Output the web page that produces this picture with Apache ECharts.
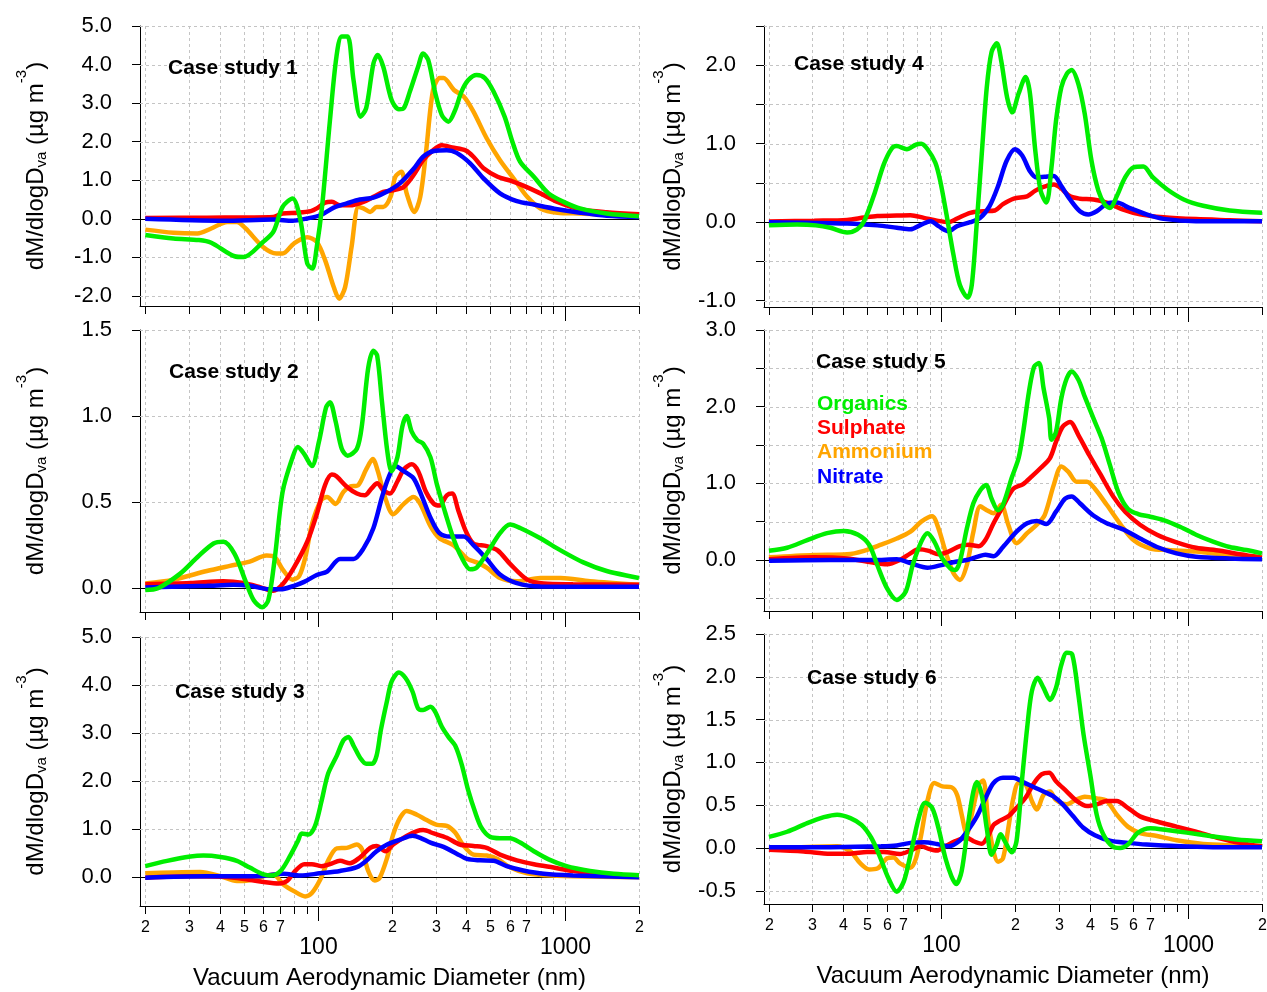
<!DOCTYPE html>
<html>
<head>
<meta charset="utf-8">
<script src="https://cdn.jsdelivr.net/npm/echarts@6/dist/echarts.min.js"></script>
<style>html,body{margin:0;padding:0;background:#fff}#c{width:1267px;height:992px}</style>
</head>
<body>
<div id="c"></div>
<script>
// ---------------- DATA ----------------
const seriesNames = ['Organics', 'Sulphate', 'Ammonium', 'Nitrate'];
const caseNames = ['Case study 1', 'Case study 2', 'Case study 3', 'Case study 4', 'Case study 5', 'Case study 6'];
const xTickValues = [20, 30, 40, 50, 60, 70, 80, 90, 100, 200, 300, 400, 500, 600, 700, 800, 900, 1000, 2000];
const xTickLabels = ['2', '3', '4', '5', '6', '7', '', '', '100', '2', '3', '4', '5', '6', '7', '', '', '1000', '2'];
const xMajorTicks = [100, 1000];
const xTitle = 'Vacuum Aerodynamic Diameter (nm)';

const cs1_yTicks = [-2, -1, 0, 1, 2, 3, 4, 5];
const cs1_yLabels = [-2, -1, 0, 1, 2, 3, 4, 5];
const cs2_yTicks = [0, 0.5, 1, 1.5];
const cs2_yLabels = [0, 0.5, 1, 1.5];
const cs3_yTicks = [0, 1, 2, 3, 4, 5];
const cs3_yLabels = [0, 1, 2, 3, 4, 5];
const cs4_yTicks = [-1, -0.5, 0, 0.5, 1, 1.5, 2, 2.5];
const cs4_yLabels = [-1, 0, 1, 2];
const cs5_yTicks = [-0.5, 0, 0.5, 1, 1.5, 2, 2.5, 3];
const cs5_yLabels = [0, 1, 2, 3];
const cs6_yTicks = [-0.5, 0, 0.5, 1, 1.5, 2, 2.5];
const cs6_yLabels = [-0.5, 0, 0.5, 1, 1.5, 2, 2.5];

// Case study 1
const cs1_org = [[20,-0.42],[26,-0.51],[33,-0.55],[37,-0.62],[46,-0.97],[50,-0.99],[60,-0.60],[66,-0.34],[72,0.31],[79,0.53],[85,-0.03],[90.6,-1.16],[95,-1.29],[99,-0.73],[104,0.31],[112,2.56],[119,4.21],[125,4.73],[132,4.73],[139.5,3.60],[149,2.65],[157,2.87],[168,4.03],[175,4.25],[184,3.95],[199,3.08],[213,2.84],[223,2.87],[236,3.30],[255,3.95],[267,4.29],[280,4.12],[299,3.26],[318,2.69],[338,2.52],[360,2.82],[382,3.30],[407,3.60],[440,3.73],[475,3.65],[515,3.30],[571,2.65],[614,2.0],[660,1.48],[750,1.09],[860,0.66],[990,0.44],[1154,0.27],[1479,0.14],[2000,0.07]];
const cs1_sul = [[20,0.02],[35.5,0.03],[66,0.05],[72,0.14],[83,0.16],[93.7,0.2],[99,0.27],[107,0.42],[114,0.44],[123,0.35],[135,0.35],[153,0.44],[168,0.57],[184,0.70],[202,0.74],[223,0.83],[244,1.13],[267,1.52],[293,1.78],[318,1.91],[350,1.85],[398,1.77],[427,1.61],[469,1.31],[535,1.09],[602,0.99],[680,0.86],[797,0.66],[934,0.44],[1154,0.25],[1479,0.17],[2000,0.12]];
const cs1_amm = [[20,-0.28],[26,-0.36],[32.5,-0.38],[37,-0.25],[43,-0.08],[47,-0.08],[51,-0.25],[60,-0.73],[68,-0.90],[72,-0.90],[80,-0.64],[90.6,-0.48],[99,-0.60],[107,-1.07],[116,-1.77],[122,-2.07],[129,-1.77],[137,-0.73],[146,0.31],[153,0.27],[163,0.18],[173,0.31],[184,0.31],[197,0.57],[206,1.09],[218,1.22],[229,0.66],[246,0.18],[260,0.57],[274,1.70],[293,3.34],[312,3.65],[323,3.65],[356,3.34],[390,3.17],[427,2.78],[483,2.09],[547,1.52],[629,1.0],[705,0.57],[797,0.27],[934,0.16],[1154,0.14],[1479,0.11],[2000,0.10]];
const cs1_nit = [[20,0.0],[41.5,-0.05],[66,-0.02],[79,-0.05],[90.6,0.01],[103,0.1],[116,0.29],[131,0.40],[148,0.50],[168,0.55],[190,0.70],[215,0.92],[244,1.29],[267,1.61],[295,1.76],[333,1.78],[365,1.71],[414,1.44],[469,1.05],[547,0.66],[640,0.46],[750,0.37],[934,0.25],[1154,0.16],[1479,0.08],[2000,0.05]];

// Case study 2
const cs2_org = [[20,-0.01],[22.5,0.0],[27.7,0.085],[32.5,0.18],[37.8,0.26],[41.5,0.27],[46,0.20],[51,0.04],[55,-0.07],[59.5,-0.11],[63,-0.07],[67,0.18],[72,0.56],[79,0.76],[83,0.82],[88,0.78],[94.6,0.71],[101,0.85],[108,1.05],[112,1.08],[118,0.97],[125,0.81],[132,0.77],[144,0.81],[151,0.95],[160,1.28],[168,1.38],[174,1.35],[182,1.08],[191,0.80],[199,0.68],[210,0.76],[220,0.94],[229,1.0],[240,0.91],[253,0.86],[267,0.84],[286,0.76],[304,0.60],[328,0.44],[354,0.29],[382,0.18],[414,0.11],[440,0.12],[483,0.20],[547,0.32],[600,0.37],[660,0.35],[797,0.29],[963,0.22],[1190,0.15],[1479,0.10],[2000,0.06]];
const cs2_sul = [[20,0.023],[30.5,0.03],[41.5,0.04],[50,0.03],[59,0.004],[66,-0.015],[72,0.023],[80,0.12],[90.6,0.27],[99,0.43],[107,0.60],[114,0.66],[119,0.65],[131,0.59],[144,0.55],[155,0.54],[165,0.58],[174,0.61],[184,0.57],[196,0.55],[210,0.62],[223,0.69],[240,0.72],[255,0.68],[274,0.56],[295,0.49],[311,0.48],[333,0.54],[350,0.55],[371,0.45],[398,0.33],[427,0.26],[483,0.245],[535,0.22],[602,0.14],[705,0.05],[823,0.027],[1080,0.023],[2000,0.02]];
const cs2_amm = [[20,0.027],[26,0.05],[35.5,0.10],[44,0.13],[53,0.155],[62,0.19],[67,0.18],[72,0.11],[79,0.05],[84,0.07],[89,0.18],[94.6,0.37],[103,0.51],[109,0.53],[118,0.49],[127,0.56],[135,0.59],[146,0.60],[157,0.69],[167,0.75],[175,0.68],[187,0.53],[202,0.43],[223,0.49],[244,0.53],[260,0.49],[286,0.36],[311,0.29],[354,0.25],[404,0.17],[440,0.15],[483,0.12],[547,0.06],[640,0.04],[797,0.06],[963,0.06],[1266,0.04],[2000,0.02]];
const cs2_nit = [[20,0.004],[35.5,0.014],[45.6,0.02],[53,0.014],[64,-0.006],[70.7,-0.006],[80,0.014],[88,0.037],[99,0.077],[109,0.097],[123,0.17],[139.5,0.17],[153,0.23],[168,0.35],[182,0.53],[193,0.64],[206,0.71],[223,0.68],[244,0.64],[263,0.54],[286,0.41],[311,0.32],[343,0.30],[390,0.30],[427,0.25],[483,0.17],[547,0.08],[640,0.03],[797,0.01],[2000,0.008]];

// Case study 3
const cs3_org = [[20,0.23],[24.5,0.34],[30.5,0.43],[34.4,0.45],[40.3,0.42],[47,0.34],[53,0.20],[60.3,0.056],[65,0.035],[70.7,0.13],[76.6,0.41],[83,0.75],[86.1,0.91],[91.8,0.89],[97.5,1.07],[103.6,1.59],[110,2.15],[119.4,2.53],[127,2.85],[133,2.92],[139.5,2.74],[149,2.47],[157,2.36],[166,2.36],[173,2.53],[180,3.06],[191,3.69],[199,4.07],[213,4.26],[227,4.14],[242,3.86],[255,3.51],[267,3.48],[286,3.55],[299,3.44],[318,3.13],[338,2.92],[360,2.74],[382,2.36],[407,1.80],[434,1.35],[460,1.03],[498,0.84],[547,0.81],[600,0.81],[660,0.72],[750,0.54],[861,0.37],[1017,0.23],[1266,0.13],[1580,0.07],[2000,0.04]];
const cs3_sul = [[20,-0.01],[30.5,0.02],[41.5,0.007],[52,-0.05],[60.3,-0.10],[69.5,-0.13],[75,-0.08],[81,0.13],[88,0.27],[94.6,0.27],[103.6,0.23],[112,0.27],[123,0.34],[135,0.29],[148,0.41],[163,0.61],[173,0.65],[188,0.54],[202,0.68],[229,0.86],[252,0.96],[267,0.98],[295,0.91],[333,0.82],[376,0.68],[427,0.65],[483,0.61],[547,0.47],[640,0.35],[750,0.27],[900,0.20],[1080,0.13],[1479,0.04],[2000,0.007]];
const cs3_amm = [[20,0.08],[26,0.10],[33.4,0.11],[40.3,0.02],[47,-0.08],[52,-0.07],[60.3,0.02],[66,0.056],[72.5,-0.15],[80,-0.29],[88.9,-0.40],[94.6,-0.33],[102.3,-0.05],[110,0.34],[119.4,0.60],[131,0.61],[143.8,0.68],[151,0.58],[160,0.13],[170,-0.07],[178,-0.014],[191,0.41],[202,0.89],[215.5,1.24],[229,1.38],[252,1.30],[276,1.19],[304,1.09],[333,1.07],[360,0.93],[390,0.65],[427,0.47],[483,0.45],[535,0.38],[602,0.20],[705,0.08],[835,0.04],[1080,0.02],[2000,0.0]];
const cs3_nit = [[20,-0.01],[35.5,0.02],[57,0.02],[72.5,0.07],[85,0.035],[102,0.08],[123,0.13],[144,0.21],[157,0.34],[173,0.54],[191,0.68],[215,0.78],[242,0.86],[260,0.82],[286,0.72],[323,0.63],[365,0.49],[402,0.38],[454,0.35],[515,0.34],[582,0.23],[680,0.14],[823,0.07],[1080,0.035],[2000,0.0]];

// Case study 4 (no ammonium trace)
const cs4_org = [[20,-0.04],[26,-0.03],[31,-0.04],[35.5,-0.07],[41.5,-0.13],[45.6,-0.09],[48.6,0.01],[53.4,0.35],[58.5,0.74],[63,0.94],[66,0.97],[72.5,0.93],[79,0.99],[83,1.0],[88,0.93],[94.6,0.76],[99,0.53],[105,0.10],[112,-0.41],[119,-0.80],[128,-0.96],[133,-0.80],[139.5,0.01],[146,0.87],[153,1.72],[160,2.17],[168,2.28],[175,2.06],[185,1.59],[194,1.40],[206,1.64],[220,1.85],[229,1.64],[240,0.95],[253,0.40],[267,0.25],[280,0.70],[292,1.29],[307,1.72],[323,1.89],[338,1.94],[360,1.76],[382,1.38],[407,0.78],[434,0.40],[460,0.23],[483,0.18],[515,0.33],[557,0.57],[602,0.70],[660,0.71],[722,0.57],[823,0.42],[963,0.29],[1154,0.21],[1479,0.15],[2000,0.12]];
const cs4_sul = [[20,0.01],[30.5,0.02],[41.5,0.03],[48.6,0.06],[55,0.08],[66,0.085],[75,0.09],[85,0.056],[96,0.02],[107,0.0],[116,0.047],[131,0.12],[148,0.14],[165,0.15],[178,0.23],[197,0.30],[223,0.33],[240,0.40],[260,0.45],[286,0.48],[304,0.44],[333,0.33],[365,0.30],[414,0.29],[469,0.25],[547,0.16],[640,0.10],[797,0.064],[1080,0.04],[1479,0.026],[2000,0.013]];
const cs4_amm = [];
const cs4_nit = [[20,0.0],[41.5,-0.017],[55,-0.04],[66,-0.07],[75,-0.09],[83,-0.03],[90.6,0.013],[97.5,-0.05],[107,-0.115],[116,-0.05],[131,0.0],[144,0.056],[157,0.205],[170,0.46],[184,0.78],[199,0.93],[213,0.85],[229,0.65],[244,0.57],[263,0.58],[286,0.59],[307,0.46],[333,0.29],[365,0.14],[395,0.10],[427,0.14],[469,0.235],[515,0.25],[582,0.18],[680,0.10],[797,0.043],[1080,0.013],[2000,0.013]];

// Case study 5
const cs5_org = [[20,0.12],[23.7,0.16],[28.6,0.26],[34.4,0.35],[40.3,0.38],[46,0.33],[51,0.20],[55,-0.065],[60.3,-0.37],[66,-0.52],[71.8,-0.41],[76.6,-0.065],[83,0.24],[88,0.35],[93.7,0.24],[101,0.02],[109,-0.11],[114,-0.13],[119,-0.02],[127,0.41],[135,0.74],[144,0.91],[152,0.98],[160,0.80],[170,0.65],[178,0.72],[193,1.07],[206,1.33],[215,1.67],[227,2.20],[238,2.52],[249,2.57],[260,2.24],[274,1.85],[280,1.57],[292,1.67],[307,2.11],[323,2.37],[338,2.46],[360,2.35],[382,2.13],[414,1.85],[447,1.59],[483,1.24],[522,0.89],[571,0.67],[629,0.60],[705,0.565],[797,0.52],[934,0.43],[1080,0.33],[1266,0.24],[1479,0.17],[1729,0.13],[2000,0.087]];
const cs5_sul = [[20,0.01],[30.5,0.035],[41.5,0.02],[52,-0.03],[60.3,-0.056],[68,0.0],[75,0.087],[81,0.14],[89,0.12],[97.5,0.074],[107,0.11],[119,0.18],[129,0.20],[142,0.18],[151,0.26],[163,0.48],[178,0.70],[196,0.93],[215,0.99],[233,1.09],[253,1.20],[276,1.33],[292,1.54],[311,1.74],[333,1.80],[360,1.63],[398,1.37],[440,1.13],[498,0.83],[557,0.63],[640,0.46],[750,0.33],[900,0.23],[1080,0.16],[1355,0.12],[1625,0.074],[2000,0.03]];
const cs5_amm = [[20,0.035],[30.5,0.065],[41.5,0.074],[48.6,0.12],[57,0.20],[66,0.28],[75,0.37],[83,0.50],[91.8,0.57],[97.5,0.41],[104,0.11],[112,-0.17],[119,-0.26],[127,-0.065],[135,0.37],[144,0.70],[153,0.65],[163,0.61],[175,0.72],[187,0.46],[202,0.22],[223,0.35],[244,0.46],[263,0.59],[286,0.98],[307,1.22],[328,1.15],[354,1.02],[390,1.02],[420,0.93],[469,0.72],[535,0.46],[602,0.26],[705,0.15],[835,0.13],[1080,0.11],[1479,0.065],[2000,0.035]];
const cs5_nit = [[20,-0.01],[35.5,0.0],[53.3,0.0],[66,0.01],[75,-0.04],[88,-0.1],[99,-0.07],[112,-0.03],[127,0.0],[139.5,0.04],[151,0.07],[163,0.05],[178,0.17],[202,0.37],[223,0.48],[244,0.51],[267,0.47],[292,0.63],[318,0.80],[338,0.83],[365,0.74],[414,0.58],[469,0.48],[547,0.40],[640,0.28],[750,0.17],[900,0.087],[1080,0.043],[1479,0.02],[2000,0.01]];

// Case study 6
const cs6_org = [[20,0.13],[23.7,0.19],[28.6,0.29],[33.4,0.36],[37.8,0.39],[42.8,0.35],[47.5,0.27],[52,0.12],[56,-0.08],[61,-0.35],[66,-0.51],[70.5,-0.39],[75,-0.08],[81,0.35],[86,0.53],[91.8,0.47],[97.5,0.23],[104,-0.12],[110,-0.33],[115,-0.42],[121,-0.27],[129.5,0.35],[135,0.66],[139.5,0.77],[146,0.62],[153,0.23],[160,-0.08],[168,0.04],[174,0.16],[181,0.08],[193,-0.05],[202,0.08],[213,0.82],[223,1.40],[233,1.83],[246,1.99],[260,1.87],[276,1.73],[292,1.87],[307,2.14],[323,2.28],[340,2.26],[360,1.79],[378,1.32],[404,0.82],[427,0.39],[454,0.16],[494,0.02],[532,0.0],[571,0.04],[629,0.18],[705,0.23],[823,0.21],[990,0.18],[1230,0.14],[1580,0.10],[2000,0.08]];
const cs6_sul = [[20,-0.02],[27.7,-0.04],[35.5,-0.066],[42.8,-0.066],[50,-0.047],[58.5,-0.047],[68,-0.07],[75,-0.03],[83,0.02],[89,-0.01],[96,-0.03],[104,0.02],[114,0.08],[127,0.12],[135,0.08],[146,0.05],[155,0.14],[163,0.27],[173,0.32],[187,0.37],[202,0.47],[220,0.59],[238,0.76],[255,0.86],[274,0.88],[292,0.78],[323,0.66],[354,0.55],[390,0.49],[427,0.51],[469,0.55],[515,0.55],[571,0.47],[640,0.37],[750,0.31],[900,0.25],[1080,0.19],[1318,0.12],[1625,0.06],[2000,0.02]];
const cs6_amm = [[20,-0.01],[30.5,0.015],[37.8,0.02],[42.8,-0.04],[47,-0.18],[51,-0.25],[55,-0.24],[60.3,-0.12],[64,-0.11],[68,-0.18],[75,-0.23],[79,-0.12],[83,0.16],[88,0.56],[93.7,0.76],[101,0.72],[110,0.71],[116,0.62],[121,0.39],[127,0.16],[132,0.35],[142,0.74],[148,0.79],[155,0.31],[163,-0.04],[170,-0.16],[178,-0.12],[187,0.23],[196,0.58],[206,0.76],[220,0.74],[233,0.55],[244,0.45],[260,0.62],[276,0.66],[292,0.56],[323,0.51],[350,0.56],[382,0.60],[427,0.58],[469,0.55],[515,0.39],[571,0.25],[640,0.175],[750,0.14],[900,0.09],[1154,0.047],[1580,0.03],[2000,0.02]];
const cs6_nit = [[20,0.008],[35.5,0.01],[57,0.02],[66,0.03],[75,0.06],[85,0.066],[96,0.047],[107,0.02],[118,0.08],[127,0.19],[139.5,0.37],[151,0.58],[163,0.76],[178,0.82],[196,0.82],[215,0.77],[238,0.71],[260,0.66],[286,0.60],[311,0.51],[343,0.37],[376,0.24],[420,0.15],[483,0.086],[571,0.06],[680,0.04],[934,0.02],[1266,0.01],[2000,0.008]];

// ---------------- LAYOUT / STYLE ----------------
const FONT = "'Liberation Sans', Arial, Helvetica, sans-serif";
const GRID_COLOR = '#c4c4c4';
const COLORS = { Organics: '#00ee00', Sulphate: '#ff0000', Ammonium: '#ffa500', Nitrate: '#0000ff' };

const panels = [
  { left: 140, top: 26,    w: 499, h: 280,   xmin: 19.04, ymin: -2.26, ymax: 5.0, yTicks: cs1_yTicks, yLabels: cs1_yLabels, bottom: false, col: 0, caseLeft: 168, caseTop: 57.5,
    data: { Organics: cs1_org, Sulphate: cs1_sul, Ammonium: cs1_amm, Nitrate: cs1_nit } },
  { left: 140, top: 330,   w: 499, h: 282,   xmin: 19.04, ymin: -0.138, ymax: 1.5, yTicks: cs2_yTicks, yLabels: cs2_yLabels, bottom: false, col: 0, caseLeft: 169, caseTop: 362,
    data: { Organics: cs2_org, Sulphate: cs2_sul, Ammonium: cs2_amm, Nitrate: cs2_nit } },
  { left: 140, top: 637,   w: 499, h: 269,   xmin: 19.04, ymin: -0.6, ymax: 5.0, yTicks: cs3_yTicks, yLabels: cs3_yLabels, bottom: true, col: 0, caseLeft: 175, caseTop: 681.5,
    data: { Organics: cs3_org, Sulphate: cs3_sul, Ammonium: cs3_amm, Nitrate: cs3_nit } },
  { left: 764, top: 26,    w: 498, h: 281,   xmin: 19.1, ymin: -1.08, ymax: 2.5, yTicks: cs4_yTicks, yLabels: cs4_yLabels, bottom: false, col: 1, caseLeft: 794, caseTop: 54,
    data: { Organics: cs4_org, Sulphate: cs4_sul, Ammonium: cs4_amm, Nitrate: cs4_nit } },
  { left: 764, top: 330,   w: 498, h: 281,   xmin: 19.1, ymin: -0.665, ymax: 3.0, yTicks: cs5_yTicks, yLabels: cs5_yLabels, bottom: false, col: 1, caseLeft: 816, caseTop: 351.5,
    data: { Organics: cs5_org, Sulphate: cs5_sul, Ammonium: cs5_amm, Nitrate: cs5_nit } },
  { left: 764, top: 634,   w: 498, h: 270,   xmin: 19.1, ymin: -0.654, ymax: 2.5, yTicks: cs6_yTicks, yLabels: cs6_yLabels, bottom: true, col: 1, caseLeft: 807, caseTop: 668,
    data: { Organics: cs6_org, Sulphate: cs6_sul, Ammonium: cs6_amm, Nitrate: cs6_nit } }
];

const yTitle = '{m|dM/dlogD}{s|va}{m| (\u00b5g m}{p|-3}{m|)}';
const yTitleRich = {
  m: { fontSize: 24, lineHeight: 44, fontFamily: FONT, color: '#000' },
  s: { fontSize: 15, verticalAlign: 'middle', padding: [12, 0, 0, 0], fontFamily: FONT, color: '#000' },
  p: { fontSize: 15, lineHeight: 15, verticalAlign: 'top', fontFamily: FONT, color: '#000' }
};

function tickRenderer(p) {
  return function (params, api) {
    const cs = params.coordSys;
    const v = api.value(0);
    const x = Math.round(api.coord([v, 0])[0]) + 0.5;
    const top = cs.y, bot = cs.y + cs.height;
    const major = xMajorTicks.indexOf(v) >= 0;
    const children = [
      { type: 'line', shape: { x1: x, y1: top, x2: x, y2: bot }, style: { stroke: GRID_COLOR, lineWidth: 1, lineDash: [3, 3] } },
      { type: 'line', shape: { x1: x, y1: bot, x2: x, y2: bot + (major ? 15 : 8) }, style: { stroke: '#000', lineWidth: 1 } }
    ];
    if (p.bottom) {
      const t = xTickLabels[params.dataIndex];
      if (t) {
        children.push({ type: 'text', style: { text: t, x: x, y: bot + (major ? 42 : 22), align: 'center', verticalAlign: 'middle',
          fontSize: major ? 23 : 16, fontFamily: FONT, fill: '#000' } });
      }
    }
    if (params.dataIndex === xTickValues.length - 1) {
      p.yTicks.forEach(function (yv) {
        const y = Math.round(api.coord([v, yv])[1]) + 0.5;
        children.push({ type: 'line', shape: { x1: cs.x, y1: y, x2: cs.x + cs.width, y2: y },
          style: yv === 0 ? { stroke: '#000', lineWidth: 1 } : { stroke: GRID_COLOR, lineWidth: 1, lineDash: [3, 3] } });
      });
    }
    return { type: 'group', children: children };
  };
}

const grid = [], xAxis = [], yAxis = [], series = [], title = [];
panels.forEach(function (p, i) {
  grid.push({ left: p.left, top: p.top, width: p.w, height: p.h, containLabel: false, outerBoundsMode: 'none' });
  xAxis.push({
    gridIndex: i, type: 'log', logBase: 10, min: p.xmin, max: 2000,
    axisLine: { show: true, onZero: false, lineStyle: { color: '#000', width: 1 } },
    axisTick: { show: false }, axisLabel: { show: false }, splitLine: { show: false }, minorTick: { show: false },
    name: p.bottom ? xTitle : '', nameLocation: 'middle', nameGap: 60,
    nameTextStyle: { fontSize: 24, color: '#000', fontFamily: FONT }
  });
  yAxis.push({
    gridIndex: i, type: 'value', min: p.ymin, max: p.ymax,
    axisLine: { show: true, onZero: false, lineStyle: { color: '#000', width: 1 } },
    axisTick: { show: true, inside: false, length: 8, customValues: p.yTicks, lineStyle: { color: '#000' } },
    axisLabel: { show: true, customValues: p.yLabels, margin: 28, fontSize: 22, color: '#000', fontFamily: FONT,
      formatter: function (v) { return Number(v).toFixed(1); } },
    splitLine: { show: false },
    name: yTitle, nameLocation: 'middle', nameRotate: 90, nameGap: p.col === 0 ? 82 : 69,
    nameTextStyle: { rich: yTitleRich, fontSize: 24, fontFamily: FONT, color: '#000' }
  });
  title.push({ text: caseNames[i], left: p.caseLeft, top: p.caseTop, padding: 0,
    textStyle: { fontSize: 21, fontWeight: 'bold', color: '#000', fontFamily: FONT } });
  series.push({
    type: 'custom', xAxisIndex: i, yAxisIndex: i, coordinateSystem: 'cartesian2d', silent: true, z: 1,
    data: xTickValues.map(function (v) { return [v, 0]; }),
    renderItem: tickRenderer(p)
  });
  ['Ammonium', 'Sulphate', 'Nitrate', 'Organics'].forEach(function (name) {
    const d = p.data[name];
    if (!d || !d.length) return;
    series.push({
      type: 'line', name: name, xAxisIndex: i, yAxisIndex: i, data: d,
      showSymbol: false, symbol: 'none', smooth: 0.3, z: 3,
      lineStyle: { color: COLORS[name], width: 4.5 }, itemStyle: { color: COLORS[name] }
    });
  });
});

const chart = echarts.init(document.getElementById('c'), null, { renderer: 'canvas' });
chart.setOption({
  animation: false,
  backgroundColor: '#ffffff',
  textStyle: { fontFamily: FONT },
  grid: grid, xAxis: xAxis, yAxis: yAxis, series: series, title: title,
  legend: {
    left: 812, top: 393, orient: 'vertical', padding: 0, itemWidth: 0, itemHeight: 0, itemGap: 2.3, selectedMode: false,
    textStyle: { fontSize: 21, fontWeight: 'bold', fontFamily: FONT, lineHeight: 22 },
    data: seriesNames.map(function (n) { return { name: n, icon: 'none', textStyle: { color: COLORS[n] } }; })
  }
});
</script>
</body>
</html>
